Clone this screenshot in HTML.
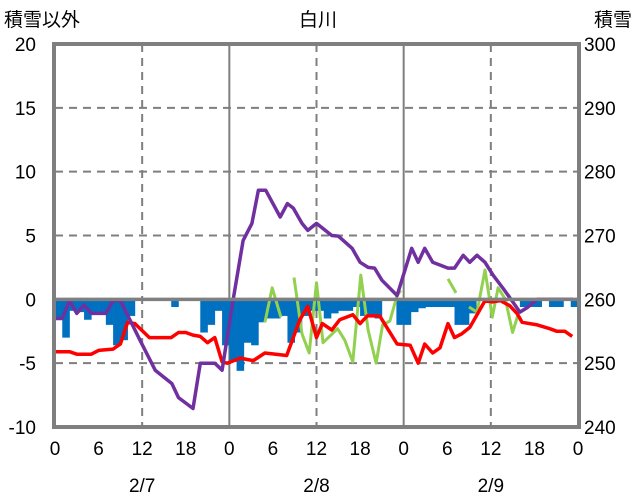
<!DOCTYPE html>
<html><head><meta charset="utf-8"><style>
html,body{margin:0;padding:0;background:#fff;}
svg{display:block;font-family:"Liberation Sans","Noto Sans CJK JP",sans-serif;}
</style></head><body>
<svg id="chart" width="636" height="501" viewBox="0 0 636 501">
<g id="grid"></g>
<g id="bars"></g>
<g id="lines"></g>
<g id="frame"></g>
<g id="labels"></g>
<text x="318" y="26" font-size="19" text-anchor="middle" fill="#000">白川</text>
<text x="4" y="26" font-size="19" fill="#000">積雪以外</text>
<text x="632" y="26" font-size="19" text-anchor="end" fill="#000">積雪</text>
</svg>
<script>
const leftTicks=[20,15,10,5,0,-5,-10];
const rightTicks=[300,290,280,270,260,250,240];
const xTickLabels=["0","6","12","18","0","6","12","18","0","6","12","18","0"];
const dateLabels=["2/7","2/8","2/9"];
const barValues=[-1.5,-3.0,-0.9,-1.0,-1.6,-1.1,-1.1,-2.0,-3.6,-3.2,-1.3,0,0,0,0,0,-0.6,0,0,0,-2.6,-2.0,-0.9,-3.6,-4.9,-5.6,-3.4,-3.6,-1.8,-1.5,-1.5,-1.3,-3.4,-2.6,-1.3,-0.9,-0.9,-1.5,-1.1,-0.9,-0.9,-0.6,-1.3,-1.3,-1.5,0,0,-2.0,-2.0,-1.0,-0.7,-0.6,-0.6,-0.6,-0.6,-2.0,-2.0,-1.1,0,0,0,0,0,0,-0.6,-0.6,-0.6,0,-0.6,-0.6,0,-0.6];
const redHours=[0,2,3,5,6,8,9,10,11,13,14,16,17,18,19,20,21,22,23,23.7,25.5,27.3,28.9,31.9,33.7,34.8,36,36.8,38.1,39.2,41,42,43,44.7,47.1,48.9,50,50.9,52,53,54.1,55,56,57.1,58.2,59.2,60.2,61.3,62.6,63.6,64.3,66.4,68.1,69.1,70.2,71.2];
const redValues=[-4.1,-4.1,-4.3,-4.3,-4.0,-3.9,-3.5,-1.8,-1.9,-3.0,-3.0,-3.0,-2.6,-2.6,-2.8,-2.9,-3.4,-3.0,-4.9,-5.0,-4.6,-4.8,-4.2,-4.4,-1.6,-0.55,-3.0,-1.9,-2.4,-1.6,-1.2,-1.9,-1.3,-1.3,-3.5,-3.6,-5.0,-3.5,-4.2,-3.8,-1.9,-3.0,-2.7,-2.2,-1.1,-0.1,-0.2,-0.1,-0.5,-1.1,-1.8,-2.0,-2.3,-2.5,-2.5,-2.9];
const greenHours=[28.9,29.9,31.1,null,32.9,34,35,36,36.9,38.9,39.9,41,42.1,43.1,44.2,45.1,46.1,47.1,47.6,null,54.1,55.2,null,57,58.1,59.2,60.2,61,62,63,63.8];
const greenValues=[-1.8,0.9,-1.4,null,1.7,-2.7,-4.2,1.3,-3.4,-2.3,-3.2,-4.9,1.9,-2.4,-5.0,-2.0,-1.7,0.3,0.7,null,1.6,0.5,null,-0.6,-1.0,2.3,-1.4,0.9,0,-2.6,-1.1];
const snowHours=[0,1,2,3,4,5,7,8,9,11.7,13.8,16.1,17,19,20,22,23,24.5,25.9,27.1,28,29,31,32,32.8,34,34.8,36,38.1,39,40.9,42,43.1,44,45,47.1,49.1,50,50.9,52,54.1,55,56.2,57.1,58.1,59.2,60.3,61.7,62.9,64,65,66.4,71.3];
const snowValues=[257,257,259.8,257.8,259.1,257.8,257.8,259.8,259.8,253.6,248.9,246.8,244.6,242.9,250,250,248.9,259.8,269.2,271.9,277.1,277.1,272.9,275,274.3,271.9,270.8,271.9,270,269.9,268,265.8,265,264.9,263,260.6,268,265.8,268,265.8,264.9,264.9,266.9,265.8,266.9,265.8,263.8,261.7,259.8,258,258.7,260,260];

const X0=55,X1=578,Y0=44,Y1=427;
const xs=h=>X0+(X1-X0)*h/72;
const yl=v=>Y1-(v+10)*(Y1-Y0)/30;
const yr=v=>Y1-(v-240)*(Y1-Y0)/60;
const NS="http://www.w3.org/2000/svg";
function mk(tag,parent,attrs){const e=document.createElementNS(NS,tag);for(const k in attrs)e.setAttribute(k,attrs[k]);document.getElementById(parent).appendChild(e);return e;}

// grid
[15,10,5,-5].forEach(v=>{
  const l=mk('line','grid',{x1:X0,x2:X1,y1:yl(v),y2:yl(v),stroke:'#7f7f7f','stroke-width':2,'stroke-dasharray':'8,6'});
  
  
});
[12,36,60].forEach(h=>{
  const l=mk('line','grid',{x1:xs(h),x2:xs(h),y1:Y0,y2:Y1,stroke:'#7f7f7f','stroke-width':2,'stroke-dasharray':'8,6'});
  
  
});
[24,48].forEach(h=>{
  const l=mk('line','grid',{x1:xs(h),x2:xs(h),y1:Y0,y2:Y1,stroke:'#7f7f7f','stroke-width':2});
  
  
});

// bars
barValues.forEach((v,i)=>{
  if(!v)return;
  const r=mk('rect','bars',{x:xs(i),y:yl(0),width:xs(i+1)-xs(i)+0.3,height:yl(v)-yl(0),fill:'#0070c0'});
  
  
});

// zero line
const z=mk('line','frame',{x1:X0,x2:X1,y1:yl(0),y2:yl(0),stroke:'#7f7f7f','stroke-width':3.5});



function pathOf(hs,vs,yf){let d='',pen=false;hs.forEach((h,i)=>{if(h===null||vs[i]===null){pen=false;return;}d+=(pen?'L':'M')+xs(h).toFixed(1)+','+yf(vs[i]).toFixed(1);pen=true;});return d;}
const g=mk('path','lines',{d:pathOf(greenHours,greenValues,yl),fill:'none',stroke:'#92d050','stroke-width':3,'stroke-linejoin':'round'});


const r=mk('path','lines',{d:pathOf(redHours,redValues,yl),fill:'none',stroke:'#ff0000','stroke-width':3.5,'stroke-linejoin':'round'});


const p=mk('path','lines',{d:pathOf(snowHours,snowValues,yr),fill:'none',stroke:'#7030a0','stroke-width':3.5,'stroke-linejoin':'round'});



// frame
const f=mk('rect','frame',{x:X0-1,y:Y0,width:X1-X0+2,height:Y1-Y0,fill:'none',stroke:'#7f7f7f','stroke-width':4});



// labels
leftTicks.forEach(v=>{
  const t=mk('text','labels',{x:36,y:yl(v)+7,'font-size':19,'text-anchor':'end',fill:'#000'});
  t.textContent=v;
  
  
});
rightTicks.forEach(v=>{
  const t=mk('text','labels',{x:584,y:yr(v)+7,'font-size':19,fill:'#000'});
  t.textContent=v;
  
  
});
xTickLabels.forEach((s,i)=>{
  const t=mk('text','labels',{x:xs(i*6),y:455,'font-size':19,'text-anchor':'middle',fill:'#000'});
  t.textContent=s;
  
  
});
dateLabels.forEach((s,i)=>{
  const t=mk('text','labels',{x:xs(12+24*i),y:492,'font-size':19,'text-anchor':'middle',fill:'#000'});
  t.textContent=s;
  
  
});
</script>
</body></html>
